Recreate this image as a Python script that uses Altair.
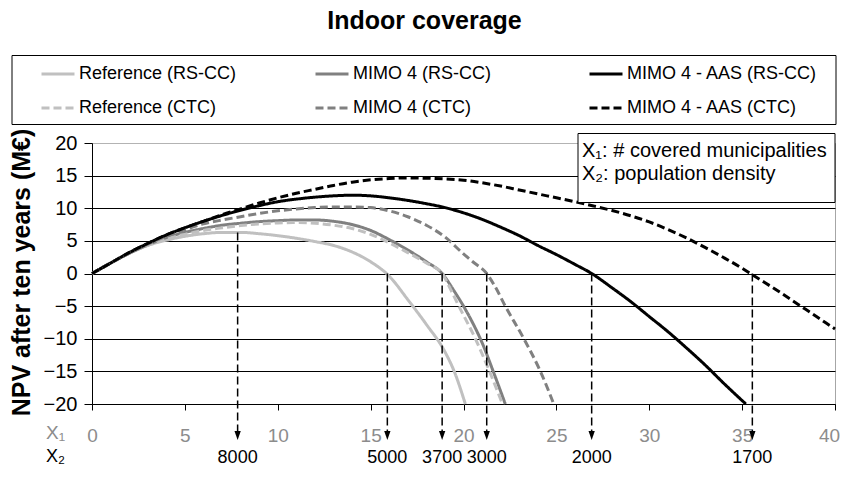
import altair as alt
import pandas as pd

FONT = "Liberation Sans"

# ---------------- data ----------------
series_names = ["Reference (RS-CC)", "MIMO 4 (RS-CC)", "MIMO 4 - AAS (RS-CC)",
                "Reference (CTC)", "MIMO 4 (CTC)", "MIMO 4 - AAS (CTC)"]

ref_rscc_x = [0, 1, 2, 3, 4, 5, 6, 7, 8, 9, 10, 11, 12, 13, 14, 15, 16, 17, 18, 19, 19.5, 20.1]
ref_rscc_y = [0, 1.6, 3.1, 4.3, 5.1, 5.7, 6.1, 6.3, 6.3, 6.1, 5.8, 5.4, 4.9, 4.3, 3.3, 1.8, -0.4, -4.0, -7.8, -12.0, -15.0, -20]

mimo_rscc_x = [0, 1, 2, 3, 4, 5, 6, 7, 8, 9, 10, 11, 12, 13, 14, 15, 16, 17, 18, 18.85, 19.5, 20, 20.5, 21, 21.6, 22.25]
mimo_rscc_y = [0, 1.6, 3.1, 4.4, 5.5, 6.3, 6.9, 7.4, 7.7, 7.95, 8.1, 8.2, 8.2, 8.0, 7.5, 6.6, 5.2, 3.6, 1.8, 0, -2.7, -5, -7.6, -10.6, -15, -20]

aas_rscc_x = [0, 1, 2, 3, 4, 5, 6, 7, 8, 9, 10, 11, 12, 13, 14, 15, 16, 17, 18, 19, 20, 21, 22, 23, 24, 25, 26, 26.9, 28, 29, 30, 31, 32, 33, 34, 35.2]
aas_rscc_y = [0, 1.6, 3.2, 4.6, 5.9, 7.0, 8.0, 8.9, 9.7, 10.4, 11.0, 11.4, 11.7, 11.9, 12.0, 11.9, 11.6, 11.2, 10.7, 10.1, 9.3, 8.3, 7.1, 5.8, 4.3, 2.9, 1.4, 0, -2.2, -4.3, -6.6, -8.9, -11.4, -14.0, -16.8, -20]

ref_ctc_x = [0, 1, 2, 3, 4, 5, 6, 7, 8, 9, 10, 11, 12, 13, 14, 15, 16, 17, 18, 18.85, 19.3, 19.75, 20.64, 21.4, 22.1]
ref_ctc_y = [0, 1.6, 3.1, 4.3, 5.3, 6.0, 6.6, 7.0, 7.35, 7.6, 7.75, 7.8, 7.7, 7.4, 6.9, 6.0, 4.7, 3.2, 1.6, 0, -2.4, -5, -10, -15, -20]

mimo_ctc_x = [0, 1, 2, 3, 4, 5, 6, 7, 8, 9, 10, 11, 12, 13, 14, 15, 16, 17, 18, 19, 20, 20.5, 21.25, 21.7, 22.25, 23.25, 24.14, 24.86]
mimo_ctc_y = [0, 1.6, 3.1, 4.5, 5.7, 6.7, 7.6, 8.2, 8.7, 9.2, 9.6, 9.9, 10.1, 10.2, 10.2, 10.1, 9.6, 8.7, 7.4, 5.6, 3.0, 1.8, 0, -2.0, -5, -10, -15, -20]

aas_ctc_x = [0, 1, 2, 3, 4, 5, 6, 7, 8, 9, 10, 11, 12, 13, 14, 15, 16, 17, 18, 19, 20, 21, 22, 23, 24, 25, 26, 27, 28, 29, 30, 31, 32, 33, 34, 35, 35.55, 36, 37, 38, 39, 40]
aas_ctc_y = [0, 1.6, 3.2, 4.6, 5.9, 7.0, 8.0, 9.0, 9.9, 10.8, 11.6, 12.3, 12.9, 13.5, 14.0, 14.35, 14.55, 14.65, 14.6, 14.5, 14.3, 13.9, 13.4, 12.8, 12.2, 11.6, 11.0, 10.35, 9.65, 8.85, 7.9, 6.75, 5.45, 4.0, 2.45, 0.8, -0.2, -1.0, -2.8, -4.7, -6.6, -8.5]

drop_x = [7.84, 15.9, 18.85, 21.25, 26.9, 35.55]
drop_y = [6.3, 0, 0, 0, 0, 0]
drop_labels = ["8000", "5000", "3700", "3000", "2000", "1700"]

x_ticks = [0, 5, 10, 15, 20, 25, 30, 35, 40]
y_ticks = [-20, -15, -10, -5, 0, 5, 10, 15, 20]

# ---------------- styles ----------------
colors = ["#c0c0c0", "#808080", "#000000", "#c0c0c0", "#808080", "#000000"]
dashes = [[1, 0], [1, 0], [1, 0], [8, 4], [8, 4], [8, 4]]

all_x = [ref_rscc_x, mimo_rscc_x, aas_rscc_x, ref_ctc_x, mimo_ctc_x, aas_ctc_x]
all_y = [ref_rscc_y, mimo_rscc_y, aas_rscc_y, ref_ctc_y, mimo_ctc_y, aas_ctc_y]
rows = []
for k, (name, xs, ys) in enumerate(zip(series_names, all_x, all_y)):
    for i, (xv, yv) in enumerate(zip(xs, ys)):
        rows.append({"series": name, "x": xv, "y": yv, "order": i, "s": k})
df = pd.DataFrame(rows)
drop_df = pd.DataFrame({"x": drop_x, "y": drop_y, "label": drop_labels})
one = pd.DataFrame({"a": [0]})

W, H = 743, 261

x_enc = alt.X("x:Q", scale=alt.Scale(domain=[0, 40], nice=False, zero=False),
              axis=alt.Axis(values=x_ticks, title=None, grid=False, domainColor="black",
                            tickColor="black", tickSize=6, labelFontSize=19, labelFont=FONT,
                            labelColor="#8c8c8c", labelPadding=16, labelFlush=False, format="d",
                            labelOffset=alt.condition("datum.value == 40", alt.value(-6), alt.value(0))))
y_enc = alt.Y("y:Q", scale=alt.Scale(domain=[-20, 20], nice=False),
              axis=alt.Axis(values=y_ticks, title="NPV after ten years (M€)", titleFontSize=25,
                            titleFont=FONT, titleFontWeight="bold", titleColor="black",
                            titleX=-58, titleY=129,
                            grid=True,
                            gridColor=alt.condition("datum.value == 20", alt.value("#b3b3b3"), alt.value("#000000")),
                            gridWidth=1, domainColor="black", tickColor="black", tickSize=8,
                            labelPadding=7, labelFontSize=20, labelFont=FONT, labelColor="black",
                            labelFlush=False))

legend = alt.Legend(title=None, orient="none", legendX=-52, legendY=-87, direction="horizontal",
                    columns=3, symbolType="stroke", symbolSize=1089, symbolStrokeWidth=3,
                    labelFont=FONT, labelFontSize=18, labelColor="black", labelOffset=3,
                    labelLimit=400, columnPadding=39, rowPadding=7, gridAlign="all", padding=0)

lines = alt.Chart(df).mark_line(strokeWidth=3, interpolate="monotone").encode(
    x=x_enc, y=y_enc,
    color=alt.Color("series:N", scale=alt.Scale(domain=series_names, range=colors), legend=legend),
    strokeDash=alt.StrokeDash("series:N", scale=alt.Scale(domain=series_names, range=dashes), legend=legend),
    detail="s:Q",
    order="order:Q",
)

legend_box = alt.Chart(one).mark_rect(fill="white", stroke="black", strokeWidth=1).encode(
    x=alt.value(-80), x2=alt.value(744), y=alt.value(-87.5), y2=alt.value(-18.5))

rules = alt.Chart(drop_df).mark_rule(color="black", strokeWidth=1.5, strokeDash=[8, 4]).encode(
    x=x_enc, y=y_enc, y2=alt.value(288))
arrows = alt.Chart(drop_df).mark_point(shape="M -0.7 -2 L 0.7 -2 L 0 0 Z", filled=True,
                                       color="black", size=81, opacity=1).encode(
    x=x_enc, y=alt.value(297))
x2_labels = alt.Chart(drop_df).mark_text(fontSize=18, font=FONT, color="black", baseline="middle").encode(
    x=x_enc, y=alt.value(315), text="label:N")

x1_name = alt.Chart(one).mark_text(fontSize=19, font=FONT, color="#8c8c8c", align="left", baseline="middle").encode(
    x=alt.value(-46), y=alt.value(290), text=alt.value("X₁"))
x2_name = alt.Chart(one).mark_text(fontSize=18, font=FONT, color="black", align="left", baseline="middle").encode(
    x=alt.value(-46), y=alt.value(314), text=alt.value("X₂"))

info_box = alt.Chart(one).mark_rect(fill="white", stroke="black", strokeWidth=1).encode(
    x=alt.value(486), x2=alt.value(743), y=alt.value(-9.5), y2=alt.value(59.5))
info_1 = alt.Chart(one).mark_text(fontSize=20, font=FONT, color="black", align="left", baseline="middle").encode(
    x=alt.value(490), y=alt.value(8), text=alt.value("X₁: # covered municipalities"))
info_2 = alt.Chart(one).mark_text(fontSize=20, font=FONT, color="black", align="left", baseline="middle").encode(
    x=alt.value(490), y=alt.value(31), text=alt.value("X₂: population density"))

chart = alt.layer(
    legend_box, lines, rules, arrows, x2_labels, x1_name, x2_name, info_box, info_1, info_2
).properties(
    width=W, height=H,
    title=alt.TitleParams("Indoor coverage", fontSize=25, fontWeight="bold", font=FONT,
                          color="black", anchor="middle", dx=-39, offset=21),
    autosize=alt.AutoSizeParams(type="none"),
    padding={"left": 84, "top": 135, "right": 5, "bottom": 64},
).configure_view(stroke="#a6a6a6", strokeWidth=1)

chart.save("out.html", embed_options={"renderer": "svg", "actions": False})
